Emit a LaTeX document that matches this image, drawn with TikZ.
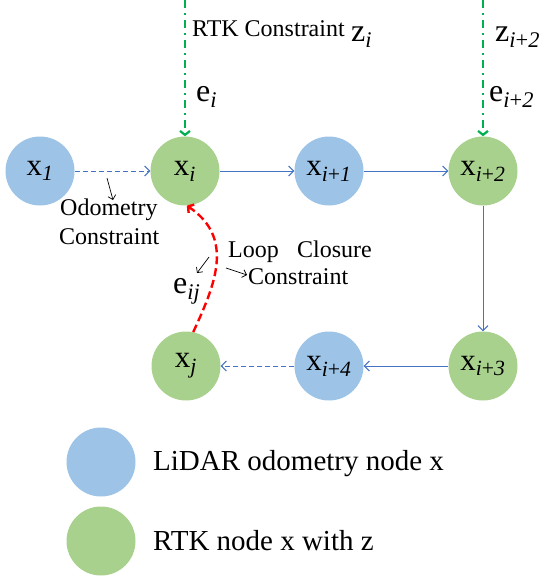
\documentclass[tikz,border=0pt]{standalone}
\usepackage{fontspec}
\setmainfont{Liberation Serif}
\usepackage{xcolor}
\usetikzlibrary{arrows.meta,positioning,calc}
\definecolor{lidarblue}{HTML}{9DC3E6}
\definecolor{rtkgreen}{HTML}{A9D18E}
\definecolor{odoline}{HTML}{4472C4}
\definecolor{rtkline}{HTML}{00B050}
\newcommand{\xsub}[1]{\textsubscript{\itshape #1}}
\newcommand{\xplus}[2]{\textsubscript{\itshape #1\upshape+\itshape #2}}

\begin{document}
\begin{tikzpicture}[x=1pt,y=-1pt,
  lidar/.style={circle,fill=lidarblue,minimum size=69pt,inner sep=0pt,font=\fontsize{31}{33}\selectfont},
  rtk/.style={lidar,fill=rtkgreen},
  odo/.style={odoline,line width=1pt,-{Straight Barb[length=5pt,width=10pt]}},
  ododash/.style={odo,dash pattern=on 5pt off 3pt},
  rtkcon/.style={rtkline,line width=2.2pt,dash pattern=on 8pt off 5pt on 2pt off 5pt,-{Straight Barb[length=4pt,width=10pt]}},
  loopcon/.style={red,line width=2.4pt,dash pattern=on 8pt off 4pt,-{Straight Barb[length=4pt,width=10pt]}},
  lbl/.style={font=\fontsize{24}{28}\selectfont,inner sep=0pt,anchor=base west},
  big/.style={font=\fontsize{32}{34}\selectfont,inner sep=0pt,anchor=base west},
  leg/.style={font=\fontsize{29}{31}\selectfont,inner sep=0pt,anchor=base west},
  pointer/.style={black,line width=0.7pt,-{Straight Barb[length=4pt,width=8pt]}}]
\useasboundingbox (0,0) rectangle (550,581);
% pose graph nodes
\node[lidar] (x1)  at (40,171)  {x\xsub{1}};
\node[rtk]   (xi)  at (185,171) {x\xsub{i}};
\node[lidar] (xi1) at (329,171) {x\xplus{i}{1}};
\node[rtk]   (xi2) at (483,171) {x\xplus{i}{2}};
\node[rtk]   (xi3) at (483,366) {x\xplus{i}{3}};
\node[lidar] (xi4) at (329,366) {x\xplus{i}{4}};
\node[rtk]   (xj)  at (186,366) {x\xsub{j}};
% odometry edges
\draw[ododash] (x1) -- (xi);
\draw[odo] (xi) -- (xi1);
\draw[odo] (xi1) -- (xi2);
\draw[odo] (xi2) -- (xi3);
\draw[odo] (xi3) -- (xi4);
\draw[ododash] (xi4) -- (xj);
% RTK constraints
\coordinate (zi) at (185,0);
\coordinate (zi2) at (483,0);
\draw[rtkcon] (zi) -- (xi.north);
\draw[rtkcon] (zi2) -- (xi2.north);
\node[lbl] (rtklbl) at (192,36) {RTK Constraint};
\node[big] (zilbl) at (351,41) {z\xsub{i}};
\node[big] (eilbl) at (196,101) {e\xsub{i}};
\node[big] (zi2lbl) at (495,41) {z\xplus{i}{2}};
\node[big] (ei2lbl) at (489,101) {e\xplus{i}{2}};
% odometry label
\node[lbl] (odolbl) at (60,215) {Odometry};
\node[lbl] (odolbl2) at (59,244) {Constraint};
\coordinate (odotail) at (107,178);
\coordinate (odotip) at (113,200);
\draw[pointer] (odotail) -- (odotip);
% loop closure
\draw[loopcon] (xj.78) .. controls (215,285) and (235,238) .. (xi.-87);
\node[lbl] (looplbl) at (228,257) {Loop};
\node[lbl] (looplbl3) at (297,257) {Closure};
\node[lbl] (looplbl2) at (248,284) {Constraint};
\node[big] (eijlbl) at (173,293) {e\xsub{ij}};
\coordinate (eijtail) at (209,257);
\coordinate (eijtip) at (197,273);
\draw[pointer] (eijtail) -- (eijtip);
\coordinate (looptail) at (226,268);
\coordinate (looptip) at (247,275);
\draw[pointer] (looptail) -- (looptip);
% legend
\node[lidar] (leglidar) at (101,462) {};
\node[rtk] (legrtk) at (101,541) {};
\node[leg] (leglidarlbl) at (153,470) {LiDAR odometry node x};
\node[leg] (legrtklbl) at (153,550) {RTK node x with z};
\end{tikzpicture}
\end{document}
